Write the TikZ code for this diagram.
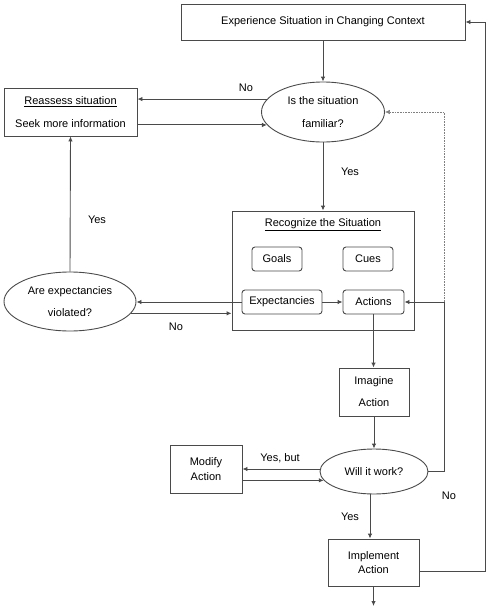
\documentclass[tikz,border=0pt]{standalone}
\usepackage{fontspec}
\setmainfont{Liberation Sans}
\usetikzlibrary{shapes.geometric,arrows.meta,calc}
\definecolor{ln}{HTML}{4A4A4A}
\tikzset{
  box/.style={draw=ln,line width=0.9pt,inner sep=0pt,align=center,font=\fontsize{11}{13}\selectfont},
  oval/.style={draw=ln,line width=0.9pt,ellipse,inner sep=0pt,align=center,font=\fontsize{11}{13}\selectfont},
  rbox/.style={box,rounded corners=3pt},
  arr/.style={draw=ln,line width=0.9pt,-{Latex[length=5pt,width=4.5pt]}},
  ln/.style={draw=ln,line width=0.9pt},
  lbl/.style={font=\fontsize{11}{13}\selectfont,inner sep=0pt}
}
\begin{document}
\begin{tikzpicture}[x=1pt,y=-1pt]
\useasboundingbox (0,0) rectangle (492,608);
\node[box,minimum width=284pt,minimum height=36pt] (top) at (323,22) {Experience Situation in Changing Context};
\node[oval,minimum width=123pt,minimum height=60pt] (fam) at (323,112) {Is the situation\\[9.5pt]familiar?};
\node[box,minimum width=133pt,minimum height=48pt] (reas) at (70.5,112) {\underline{Reassess situation}\\[9.5pt]Seek more information};
\node[box,minimum width=182pt,minimum height=119pt] (rec) at (323,270.5) {};
\node[lbl] (rectitle) at (323,225) {\underline{Recognize the Situation}};
\node[rbox,minimum width=50pt,minimum height=24pt] (goals) at (277,259) {Goals};
\node[rbox,minimum width=50pt,minimum height=24pt] (cues) at (368,259) {Cues};
\node[rbox,minimum width=80pt,minimum height=24pt] (exp) at (282,302) {Expectancies};
\node[rbox,minimum width=61pt,minimum height=24pt] (act) at (373.5,302) {Actions};
\node[oval,minimum width=132pt,minimum height=59pt] (are) at (70,301.5) {Are expectancies\\[9.5pt]violated?};
\node[box,minimum width=70pt,minimum height=48pt] (imag) at (374,392) {Imagine\\[9pt]Action};
\node[oval,minimum width=108pt,minimum height=45pt] (will) at (374,471.5) {Will it work?};
\node[box,minimum width=72pt,minimum height=48pt] (mod) at (206,469) {Modify\\[1.5pt]Action};
\node[box,minimum width=91pt,minimum height=47pt] (impl) at (373.5,562.5) {Implement\\[1.5pt]Action};
\coordinate (endpt) at (373.5,606);
\coordinate (rj) at (444,302);
\coordinate (rt) at (444,112);
\coordinate (fr) at (485,571);
\coordinate (ft) at (485,22);
% labels
\node[lbl] (lno1) at (246,88) {No};
\node[lbl] (lyes1) at (350,172) {Yes};
\node[lbl] (lyes2) at (97,220) {Yes};
\node[lbl] (lno2) at (176,327) {No};
\node[lbl] (lyesbut) at (280,458) {Yes, but};
\node[lbl] (lno3) at (449,496) {No};
\node[lbl] (lyes3) at (350,517) {Yes};
% connectors
\draw[arr] (top.south) -- (fam.north);
\draw[arr] (fam.167) -- (fam.167 -| reas.east);
\draw[arr] (fam.193 -| reas.east) -- (fam.193);
\draw[arr] (fam.south) -- (rec.north);
\draw[draw=ln!70,line width=0.6pt,densely dotted,-{Latex[length=5pt,width=4.5pt]}] (rj) -- (rt) -- (fam.east);
\draw[arr] (exp.west) -- (exp.west -| are.east);
\draw[arr] (are.-11) -- (are.-11 -| rec.west);
\draw[arr] (are.north) -- (reas.south);
\draw[arr] (exp.east) -- (act.west);
\draw[arr] (act.south) -- (act.south |- imag.north);
\draw[arr] (imag.south) -- (will.north);
\draw[arr] (will.west |- mod.east) -- (mod.east);
\draw[arr] (will.190 -| mod.east) -- (will.190);
\draw[arr] (will.east) -| (rj) -- (act.east);
\draw[arr] ([xshift=-4pt]will.south) -- ([xshift=-4pt]will.south |- impl.north);
\draw[arr] ([yshift=-8.5pt]impl.east) -- (fr) -- (ft) -- (top.east);
\draw[arr] (impl.south) -- (endpt);
\end{tikzpicture}
\end{document}
